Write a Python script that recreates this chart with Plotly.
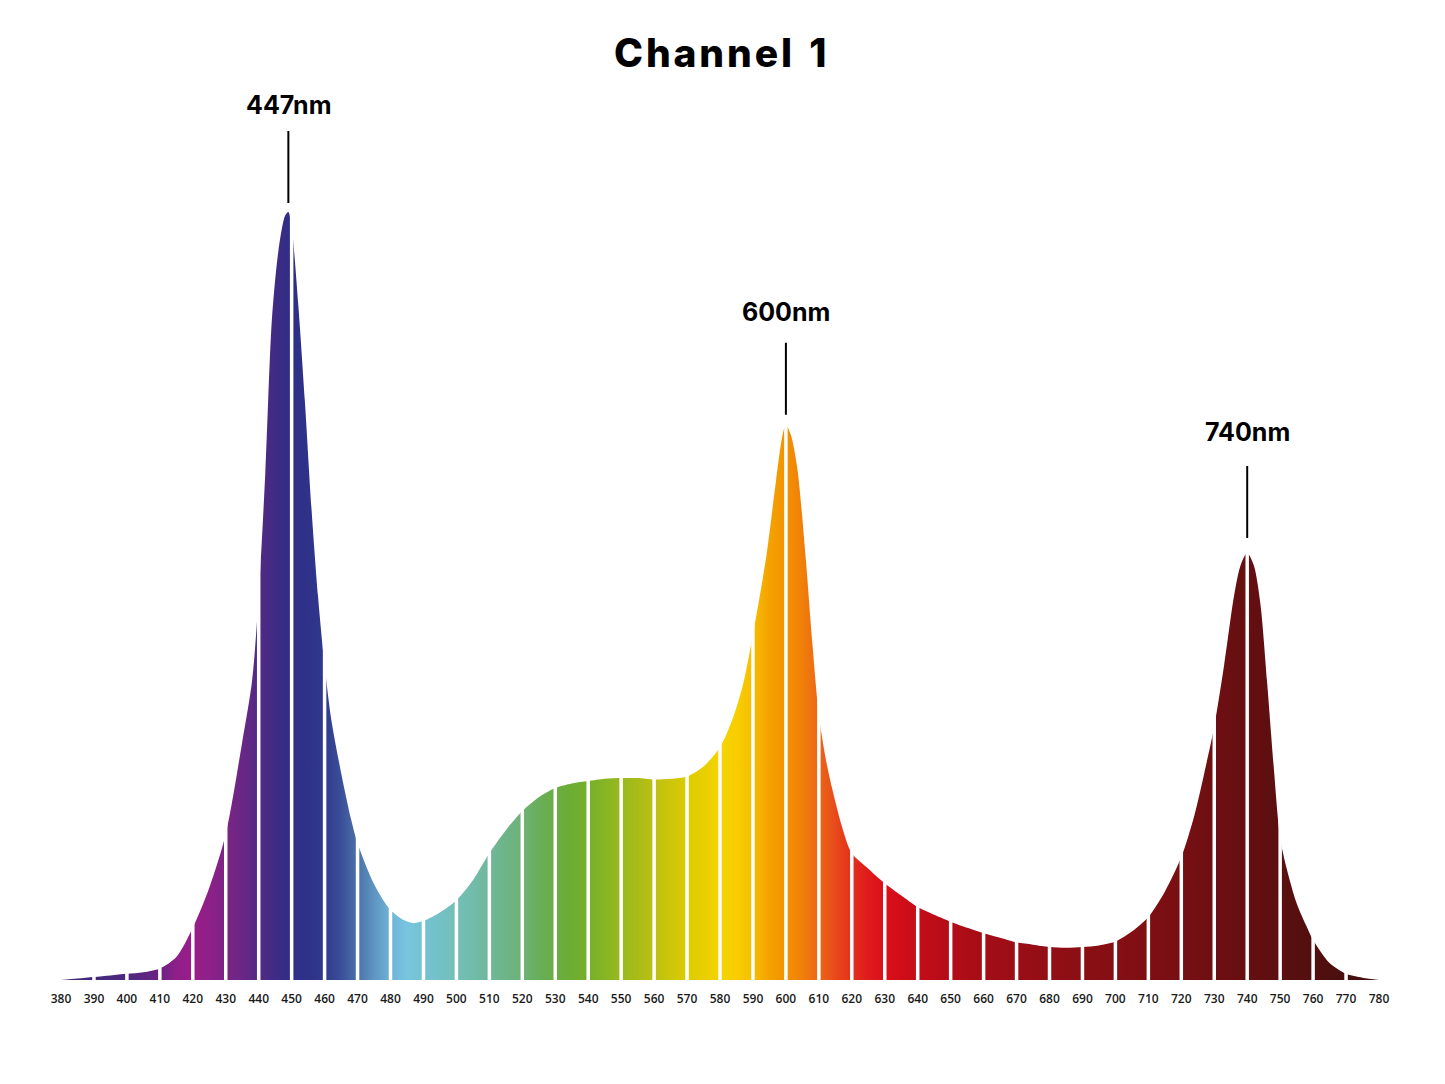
import plotly.graph_objects as go

# ---- spectrum data (relative intensity, peak = 1.0) ----
wavelength = [380, 385, 390, 395, 400, 405, 410, 415, 420, 425, 430, 435, 438, 440, 442, 444, 446,
              448, 449, 450, 452, 454, 456, 458, 460, 462, 465, 468, 470, 475, 480, 484, 487, 490,
              495, 500, 505, 510, 515, 520, 525, 530, 535, 540, 545, 550, 555, 560, 565, 570, 575,
              580, 584, 587, 590, 594, 597, 599, 600, 601.5, 603.5, 606, 608, 610, 612, 614,
              617, 620, 625, 630, 635, 640, 645, 650, 655, 660, 665, 670, 675, 680, 685, 690, 695,
              700, 705, 710, 715, 720, 724, 727, 730, 733, 736, 738, 740, 742, 744, 746, 748, 750,
              752, 755, 758, 760, 765, 770, 775, 780]
intensity = [0.0, 0.002, 0.004, 0.006, 0.008, 0.010, 0.015, 0.030, 0.068, 0.120, 0.190, 0.310, 0.390,
             0.500, 0.660, 0.860, 0.950, 0.995, 1.000, 0.980, 0.880, 0.755, 0.615, 0.500, 0.410,
             0.340, 0.270, 0.210, 0.178, 0.125, 0.091, 0.078, 0.074, 0.077, 0.088, 0.104, 0.130,
             0.165, 0.195, 0.220, 0.238, 0.250, 0.256, 0.259, 0.262, 0.263, 0.263, 0.261, 0.262,
             0.265, 0.278, 0.303, 0.342, 0.385, 0.450, 0.550, 0.650, 0.710, 0.723, 0.710,
             0.665, 0.550, 0.440, 0.345, 0.290, 0.250, 0.200, 0.165, 0.145, 0.126, 0.110, 0.095,
             0.085, 0.076, 0.068, 0.061, 0.055, 0.049, 0.046, 0.043, 0.042, 0.043, 0.045, 0.050,
             0.063, 0.082, 0.115, 0.160, 0.215, 0.270, 0.330, 0.410, 0.500, 0.540, 0.556, 0.540,
             0.490, 0.390, 0.280, 0.185, 0.145, 0.100, 0.070, 0.052, 0.022, 0.008, 0.003, 0.0]

tick_nm = list(range(380, 790, 10))
tick_labels = [str(t) for t in tick_nm]

color_nm = [380, 390, 400, 410, 415, 420, 425, 430, 435, 440, 445, 450, 455, 460, 465, 470, 475,
            480, 485, 490, 495, 500, 505, 510, 515, 520, 525, 530, 535, 540, 545, 550, 555, 560,
            565, 570, 575, 580, 585, 590, 595, 600, 605, 610, 615, 620, 625, 630, 635, 640, 650,
            660, 670, 680, 690, 700, 710, 720, 730, 740, 750, 760, 770, 780]
color_hex = ["#3b2a6e", "#43297a", "#4d2880", "#6b2383", "#8e1f88", "#9a1d8a", "#8e2088", "#7b2385",
             "#6a2785", "#522a84", "#3f2b85", "#2f2e86", "#2e3288", "#30398c", "#3a4f98", "#4c71a9",
             "#5f95c2", "#6fb3d6", "#78c5e0", "#74c2d2", "#73c1c7", "#72bfb8", "#71bcaa", "#70b899",
             "#6db488", "#6db274", "#69ae5a", "#6aad45", "#6dad32", "#76b02a", "#86b524", "#98b91e",
             "#a8bc18", "#bbc112", "#ccc60a", "#dbcb03", "#e8cf00", "#f4d300", "#f8ce00", "#f7bd00",
             "#f4a200", "#f39200", "#f07f0a", "#ec6716", "#e84a1b", "#e3301c", "#df1a1c", "#dc0f1a",
             "#d00d19", "#c50d18", "#b30c18", "#a50d16", "#9a0e16", "#920e15", "#8a0f14", "#850f14",
             "#7e0f13", "#770f13", "#6e0f12", "#650f11", "#5b0f10", "#520f0f", "#4a0e0e", "#400c0c"]

peak_nm = [449, 600, 740]
peak_labels = ["447nm", "600nm", "740nm"]

# ---- styling constants (pixels) ----
PX_PER_UNIT = 768
line_gap_px = [9, 10, 15]
line_len_px = 72
label_gap_px = [26, 31, 34]

# ---- build figure ----
lookup = dict(zip(wavelength, intensity))
x_lo, x_hi = tick_nm[0], tick_nm[-1]
colorscale = [[(n - x_lo) / (x_hi - x_lo), c] for n, c in zip(color_nm, color_hex)]

fig = go.Figure()
fig.add_trace(go.Scatter(
    x=wavelength, y=intensity, mode="lines",
    line=dict(width=0, shape="spline", smoothing=0.8, color="rgba(0,0,0,0)"),
    fill="tozeroy",
    fillgradient=dict(type="horizontal", colorscale=colorscale, start=x_lo, stop=x_hi),
    hoverinfo="skip", showlegend=False,
))

# white separators at every 10 nm
sx, sy = [], []
for t in tick_nm[1:-1]:
    sx += [t, t, None]
    sy += [-0.01, lookup[t] + 0.05, None]
fig.add_trace(go.Scatter(x=sx, y=sy, mode="lines", line=dict(color="white", width=3.5),
                         hoverinfo="skip", showlegend=False))

# peak markers
for p, lab, g, lg in zip(peak_nm, peak_labels, line_gap_px, label_gap_px):
    v = lookup[p]
    y0 = v + g / PX_PER_UNIT
    y1 = y0 + line_len_px / PX_PER_UNIT
    fig.add_shape(type="line", xref="x", yref="y", x0=p, x1=p, y0=y0, y1=y1,
                  line=dict(color="black", width=2), layer="above")
    fig.add_annotation(x=p, y=y1, xref="x", yref="y", text=lab, showarrow=False,
                       yshift=lg, font=dict(family="Inter", size=25, color="black", weight=700))

title_text = "\u200a".join("Channel") + "\u2009\u2009\u2009" + "1"
fig.add_annotation(x=0.5, xref="paper", y=1 + 48 / 880, yref="paper", text=title_text,
                   showarrow=False, yanchor="middle",
                   font=dict(family="Inter", size=39, color="black", weight=800))

fig.update_layout(
    width=1445, height=1084,
    margin=dict(l=61, r=66, t=100, b=104),
    paper_bgcolor="white", plot_bgcolor="white",
    xaxis=dict(range=[x_lo, x_hi], tickmode="array", tickvals=tick_nm, ticktext=tick_labels,
               showgrid=False, zeroline=False, showline=False,
               ticks="outside", ticklen=8, tickcolor="rgba(0,0,0,0)",
               tickfont=dict(family="Open Sans", size=12, color="#1a1a1a", weight=600)),
    yaxis=dict(range=[0, 880 / 768], visible=False, showgrid=False, zeroline=False),
    showlegend=False,
)

fig.write_html("out.html")
